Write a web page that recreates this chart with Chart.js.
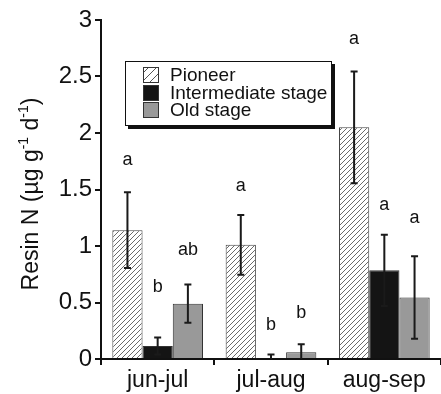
<!DOCTYPE html>
<html>
<head>
<meta charset="utf-8">
<script src="https://cdn.jsdelivr.net/npm/chart.js@4.4.0/dist/chart.umd.min.js"></script>
<style>
  html, body { margin: 0; padding: 0; background: #fff; }
  #wrap { width: 441px; height: 394px; }
</style>
</head>
<body>
<div id="wrap"><canvas id="barChart"></canvas></div>
<script>
// Datos
const categories = ['jun-jul', 'jul-aug', 'aug-sep'];
const seriesNames = ['Pioneer', 'Intermediate stage', 'Old stage'];

const pioneer = [1.14, 1.01, 2.05];
const pioneerErr = [0.335, 0.265, 0.495];
const intermediate = [0.115, 0.005, 0.785];
const intermediateErr = [0.075, 0.035, 0.315];
const oldStage = [0.49, 0.06, 0.545];
const oldStageErr = [0.17, 0.07, 0.365];

// letras de significancia y su altura (en unidades del eje Y)
const pioneerLetters = ['a', 'a', 'a'];
const pioneerLetterY = [1.76, 1.53, 2.83];
const intermediateLetters = ['b', 'b', 'a'];
const intermediateLetterY = [0.635, 0.30, 1.36];
const oldStageLetters = ['ab', 'b', 'a'];
const oldStageLetterY = [0.965, 0.41, 1.245];

const yTicks = [0, 0.5, 1, 1.5, 2, 2.5, 3];

const FONT = "'Liberation Sans', Arial, Helvetica, sans-serif";
Chart.defaults.font.family = FONT;
Chart.defaults.color = '#111';

// Patrón rayado para "Pioneer"
function makeHatch(size, color) {
    const c = document.createElement('canvas');
    c.width = size;
    c.height = size;
    const g = c.getContext('2d');
    g.fillStyle = '#fff';
    g.fillRect(0, 0, size, size);
    g.strokeStyle = color;
    g.lineWidth = 1;
    g.beginPath();
    g.moveTo(-1, size + 1);
    g.lineTo(size + 1, -1);
    g.moveTo(-1, 1);
    g.lineTo(1, -1);
    g.moveTo(size - 1, size + 1);
    g.lineTo(size + 1, size - 1);
    g.stroke();
    return g.createPattern(c, 'repeat');
}

const ctx = document.getElementById('barChart').getContext('2d');
const hatch = makeHatch(5, '#6a6a6a');
const legendHatch = makeHatch(8, '#555');

const errors = [pioneerErr, intermediateErr, oldStageErr];
const letters = [pioneerLetters, intermediateLetters, oldStageLetters];
const letterY = [pioneerLetterY, intermediateLetterY, oldStageLetterY];

// Barras de error
const errorBars = {
    id: 'errorBars',
    afterDatasetsDraw(chart) {
        const c = chart.ctx;
        const y = chart.scales.y;
        const area = chart.chartArea;
        c.save();
        c.beginPath();
        c.rect(area.left, area.top - 5, area.right - area.left, area.bottom - area.top + 5);
        c.clip();
        c.strokeStyle = '#1a1a1a';
        c.lineWidth = 2;
        chart.data.datasets.forEach((ds, i) => {
            chart.getDatasetMeta(i).data.forEach((bar, j) => {
                const v = ds.data[j];
                const e = errors[i][j];
                const top = y.getPixelForValue(v + e);
                const bot = y.getPixelForValue(v - e);
                c.beginPath();
                c.moveTo(bar.x, top);
                c.lineTo(bar.x, bot);
                c.moveTo(bar.x - 3.5, top);
                c.lineTo(bar.x + 3.5, top);
                c.moveTo(bar.x - 3.5, bot);
                c.lineTo(bar.x + 3.5, bot);
                c.stroke();
            });
        });
        c.restore();

        // letras
        c.save();
        c.fillStyle = '#111';
        c.font = '18px ' + FONT;
        c.textAlign = 'center';
        c.textBaseline = 'middle';
        chart.data.datasets.forEach((ds, i) => {
            chart.getDatasetMeta(i).data.forEach((bar, j) => {
                c.fillText(letters[i][j], bar.x, y.getPixelForValue(letterY[i][j]));
            });
        });
        c.restore();
    }
};

// Leyenda con recuadro y sombra
const boxLegend = {
    id: 'boxLegend',
    afterDraw(chart) {
        const c = chart.ctx;
        const bx = 125, by = 61, bw = 207, bh = 65;
        c.save();
        c.fillStyle = '#111';
        c.fillRect(bx + 3, by + 3, bw, bh);
        c.fillStyle = '#fff';
        c.fillRect(bx, by, bw, bh);
        c.strokeStyle = '#111';
        c.lineWidth = 1;
        c.strokeRect(bx + 0.5, by + 0.5, bw - 1, bh - 1);
        const rowY = [75, 93, 110];
        const swatch = [legendHatch, '#141414', '#999'];
        c.font = '19px ' + FONT;
        c.textBaseline = 'middle';
        seriesNames.forEach((name, i) => {
            c.fillStyle = swatch[i];
            c.fillRect(143, rowY[i] - 8, 16, 16);
            c.strokeStyle = '#333';
            c.strokeRect(143.5, rowY[i] - 7.5, 15, 15);
            c.fillStyle = '#111';
            c.fillText(name, 170, rowY[i] + 1);
        });
        c.restore();
    }
};

// Título del eje Y con superíndices
const yTitle = {
    id: 'yTitle',
    afterDraw(chart) {
        const c = chart.ctx;
        const parts = [
            ['Resin N (\u00b5g g', false],
            ['-1', true],
            [' d', false],
            ['-1', true],
            [')', false]
        ];
        const big = '23px ' + FONT;
        const small = '14px ' + FONT;
        let total = 0;
        parts.forEach(p => {
            c.font = p[1] ? small : big;
            total += c.measureText(p[0]).width;
        });
        c.save();
        c.translate(32, 194);
        c.rotate(-Math.PI / 2);
        c.fillStyle = '#111';
        c.textBaseline = 'middle';
        let x = -total / 2;
        parts.forEach(p => {
            c.font = p[1] ? small : big;
            c.fillText(p[0], x, p[1] ? -8 : 0);
            x += c.measureText(p[0]).width;
        });
        c.restore();
    }
};

const chart = new Chart(ctx, {
    type: 'bar',
    data: {
        labels: categories,
        datasets: [{
            label: seriesNames[0],
            data: pioneer,
            backgroundColor: hatch,
            borderColor: '#444',
            borderWidth: 1
        }, {
            label: seriesNames[1],
            data: intermediate,
            backgroundColor: '#141414',
            borderColor: '#333',
            borderWidth: 1
        }, {
            label: seriesNames[2],
            data: oldStage,
            backgroundColor: '#999',
            borderColor: '#333',
            borderWidth: 1
        }]
    },
    options: {
        responsive: true,
        maintainAspectRatio: false,
        animation: false,
        layout: { padding: { top: 20, left: 0, right: 0, bottom: 0 } },
        datasets: { bar: { categoryPercentage: 0.8, barPercentage: 1.0 } },
        plugins: {
            legend: { display: false },
            tooltip: { enabled: false }
        },
        scales: {
            x: {
                afterFit(scale) { scale.height = 35; },
                border: { color: '#111', width: 2 },
                grid: {
                    offset: true,
                    drawOnChartArea: false,
                    color: '#111',
                    lineWidth: 2,
                    tickLength: 6
                },
                ticks: { color: '#111', font: { size: 23 }, padding: 2 }
            },
            y: {
                min: 0,
                max: 3,
                afterFit(scale) { scale.width = 101; },
                afterBuildTicks(scale) { scale.ticks = yTicks.map(v => ({ value: v })); },
                border: { color: '#111', width: 2 },
                grid: {
                    drawOnChartArea: false,
                    color: '#111',
                    lineWidth: 2,
                    tickLength: 6
                },
                ticks: {
                    color: '#111',
                    font: { size: 24 },
                    padding: 3,
                    callback: v => String(v)
                }
            }
        }
    },
    plugins: [errorBars, boxLegend, yTitle]
});
</script>
</body>
</html>
